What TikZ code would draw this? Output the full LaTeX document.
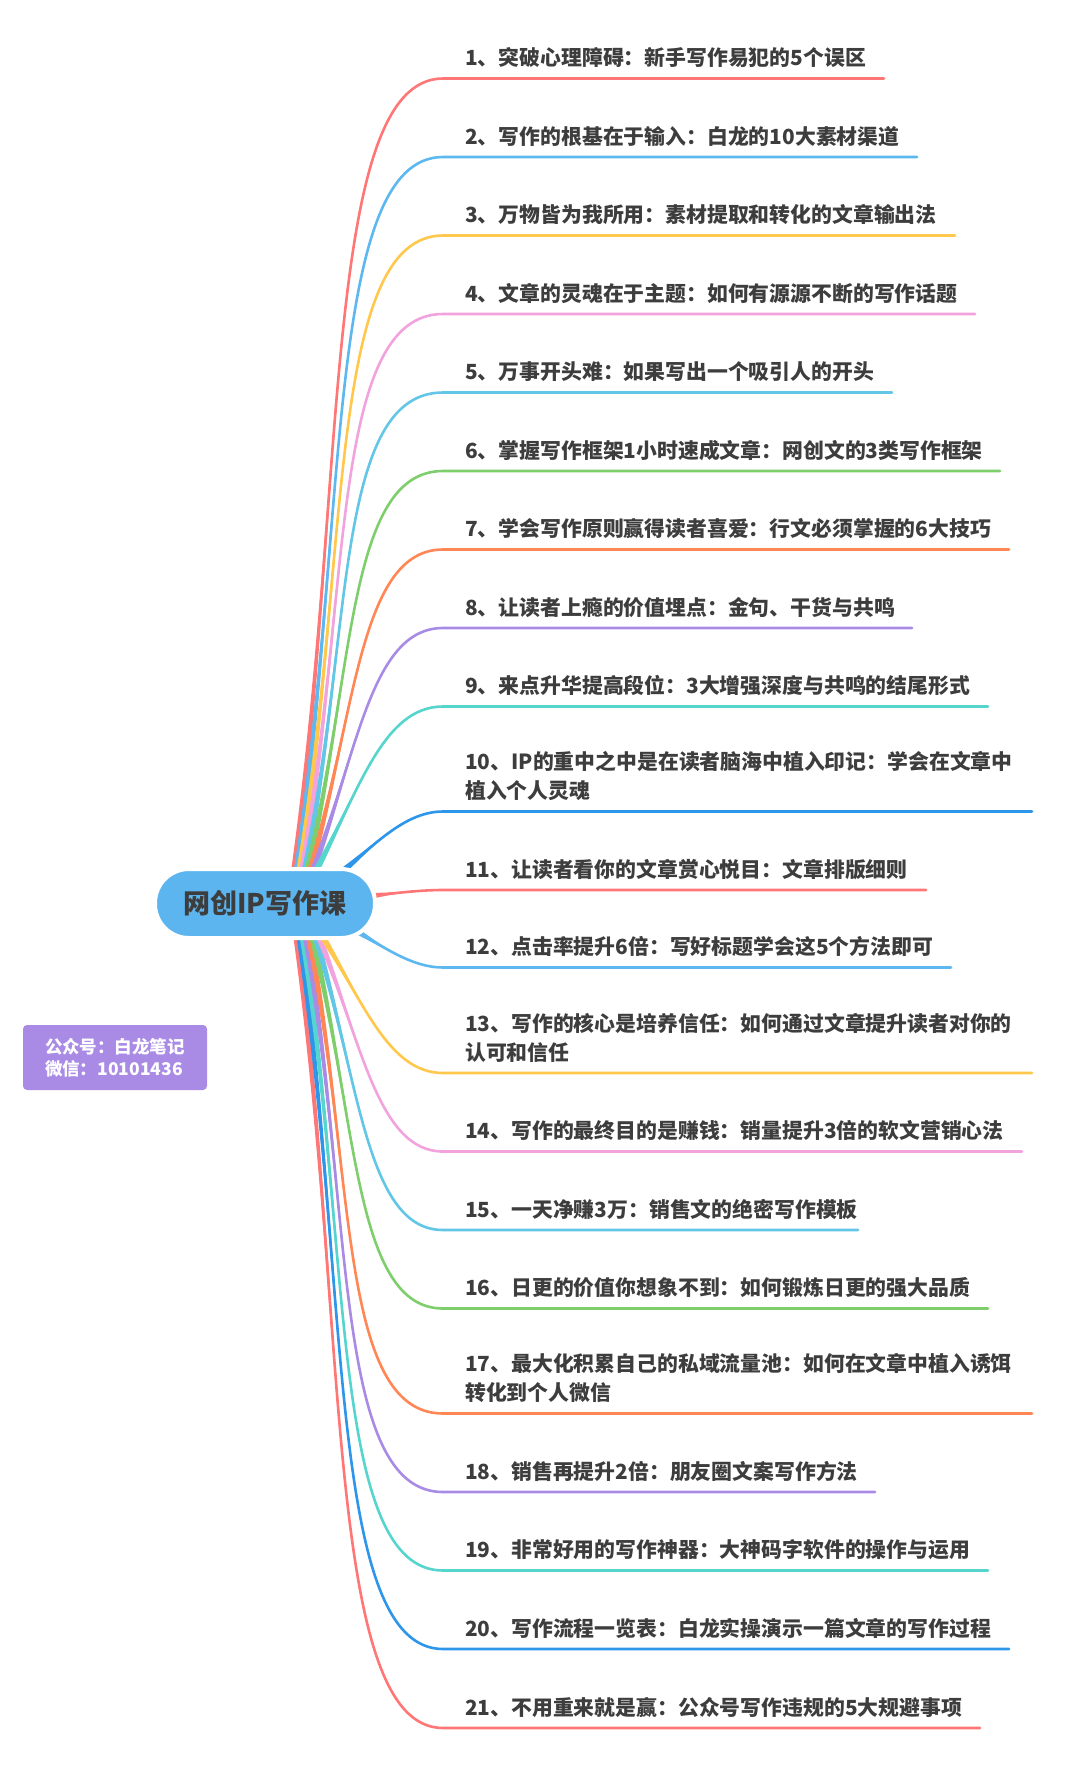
\documentclass[tikz,border=0pt]{standalone}
\usepackage{fontspec}
\newfontfamily\cjk{Noto Sans CJK SC}
\usetikzlibrary{calc}
\definecolor{cRed}{HTML}{FF7676}
\definecolor{cLBlue}{HTML}{5DB8F0}
\definecolor{cYellow}{HTML}{FFC84C}
\definecolor{cPink}{HTML}{F2A3DE}
\definecolor{cCyan}{HTML}{62C6E6}
\definecolor{cGreen}{HTML}{7ECF6C}
\definecolor{cOrange}{HTML}{FF8755}
\definecolor{cPurple}{HTML}{A98BE6}
\definecolor{cTeal}{HTML}{56D5CE}
\definecolor{cBlue}{HTML}{2E96EA}
\definecolor{txt}{HTML}{3D3D3D}
\definecolor{rootfill}{HTML}{5DB5EF}
\newcommand{\mbranch}[6]{%
  \pgfmathsetmacro{\bDX}{443-#3}%
  \pgfmathsetmacro{\bDY}{#5-#4}%
  \pgfmathsetmacro{\bC}{min(0.8,0.3+0.001*abs(\bDY))}%
  \pgfmathsetmacro{\bAX}{#3+0.35*\bDX}%
  \pgfmathsetmacro{\bAY}{#4+0.5*\bDY}%
  \pgfmathsetmacro{\bBX}{443-\bC*\bDX}%
  \coordinate (s#1) at (#3,#4);
  \coordinate (ca#1) at (\bAX,\bAY);
  \coordinate (cb#1) at (\bBX,#5);
  \coordinate (e#1) at (443,#5);
  \coordinate (f#1) at (#6,#5);
  \fill[#2] ($(s#1)!3.2pt!90:(ca#1)$) .. controls (ca#1) and (cb#1) .. (e#1)
     .. controls (cb#1) and (ca#1) .. ($(s#1)!3.2pt!-90:(ca#1)$) -- cycle;
  \draw[#2, branchline] (s#1) .. controls (ca#1) and (cb#1) .. (e#1) -- (f#1);
}
\tikzset{
  branchline/.style={line width=2.6pt, line cap=round},
  item/.style={anchor=base west, inner sep=0pt, text=txt,
    font=\cjk\bfseries\fontsize{20.85}{29}\selectfont},
  rootnode/.style={fill=rootfill, draw=white, line width=4pt,
    rounded corners=34pt, minimum width=220pt, minimum height=69pt,
    inner sep=0pt, text=txt, font=\cjk\bfseries\fontsize{27}{32}\selectfont},
  infobox/.style={fill=cPurple, rounded corners=4pt, minimum width=184pt,
    minimum height=65pt, inner sep=0pt, align=left, text=white,
    font=\cjk\bfseries\fontsize{17.5}{22}\selectfont},
}
\begin{document}
\begin{tikzpicture}[x=1pt,y=-1pt]
\useasboundingbox (0,0) rectangle (1080,1765);
\fill[white] (0,0) rectangle (1080,1765);
% branches
\mbranch{1}{cRed}{294}{873}{78.5}{884}
\mbranch{2}{cLBlue}{296.6}{873}{157}{917}
\mbranch{3}{cYellow}{299.2}{873}{235.5}{955}
\mbranch{4}{cPink}{301.8}{873}{314}{975}
\mbranch{5}{cCyan}{304.4}{873}{392.5}{892}
\mbranch{6}{cGreen}{307}{873}{471}{1000}
\mbranch{7}{cOrange}{309.6}{873}{549.5}{1009}
\mbranch{8}{cPurple}{312.2}{873}{628}{912}
\mbranch{9}{cTeal}{314.8}{873}{706.5}{988}
\mbranch{10}{cBlue}{343}{871}{811.5}{1032}
\mbranch{11}{cRed}{370}{896}{890}{926}
\mbranch{12}{cLBlue}{355}{930}{967.5}{951}
\mbranch{21}{cRed}{296.2}{934}{1728}{980}
\mbranch{20}{cBlue}{299.3}{934}{1649}{1009}
\mbranch{19}{cTeal}{302.4}{934}{1570.5}{988}
\mbranch{18}{cPurple}{305.5}{934}{1492}{875}
\mbranch{17}{cOrange}{308.6}{934}{1413.5}{1032}
\mbranch{16}{cGreen}{311.7}{934}{1308.5}{988}
\mbranch{15}{cCyan}{314.8}{934}{1230}{858}
\mbranch{14}{cPink}{317.9}{934}{1151.5}{1022}
\mbranch{13}{cYellow}{321}{934}{1073}{1032}
% root
\node[rootnode] (root) at (265,903.5) {网创IP写作课};
% info box
\node[infobox] (info) at (115,1057.5) {公众号：白龙笔记\\微信：10101436};
% texts
\node[item] (t1) at (465,65.5) {1、突破心理障碍：新手写作易犯的5个误区};
\node[item] (t2) at (465,144) {2、写作的根基在于输入：白龙的10大素材渠道};
\node[item] (t3) at (465,222.5) {3、万物皆为我所用：素材提取和转化的文章输出法};
\node[item] (t4) at (465,301) {4、文章的灵魂在于主题：如何有源源不断的写作话题};
\node[item] (t5) at (465,379.5) {5、万事开头难：如果写出一个吸引人的开头};
\node[item] (t6) at (465,458) {6、掌握写作框架1小时速成文章：网创文的3类写作框架};
\node[item] (t7) at (465,536.5) {7、学会写作原则赢得读者喜爱：行文必须掌握的6大技巧};
\node[item] (t8) at (465,615) {8、让读者上瘾的价值埋点：金句、干货与共鸣};
\node[item] (t9) at (465,693.5) {9、来点升华提高段位：3大增强深度与共鸣的结尾形式};
\node[item] (t10) at (465,798.5) {\begin{tabular}[b]{@{}l@{}}10、IP的重中之中是在读者脑海中植入印记：学会在文章中\\植入个人灵魂\end{tabular}};
\node[item] (t11) at (465,877) {11、让读者看你的文章赏心悦目：文章排版细则};
\node[item] (t12) at (465,954.5) {12、点击率提升6倍：写好标题学会这5个方法即可};
\node[item] (t13) at (465,1060) {\begin{tabular}[b]{@{}l@{}}13、写作的核心是培养信任：如何通过文章提升读者对你的\\认可和信任\end{tabular}};
\node[item] (t14) at (465,1138.5) {14、写作的最终目的是赚钱：销量提升3倍的软文营销心法};
\node[item] (t15) at (465,1217) {15、一天净赚3万：销售文的绝密写作模板};
\node[item] (t16) at (465,1295.5) {16、日更的价值你想象不到：如何锻炼日更的强大品质};
\node[item] (t17) at (465,1400.5) {\begin{tabular}[b]{@{}l@{}}17、最大化积累自己的私域流量池：如何在文章中植入诱饵\\转化到个人微信\end{tabular}};
\node[item] (t18) at (465,1479) {18、销售再提升2倍：朋友圈文案写作方法};
\node[item] (t19) at (465,1557.5) {19、非常好用的写作神器：大神码字软件的操作与运用};
\node[item] (t20) at (465,1636) {20、写作流程一览表：白龙实操演示一篇文章的写作过程};
\node[item] (t21) at (465,1715) {21、不用重来就是赢：公众号写作违规的5大规避事项};
\end{tikzpicture}
\end{document}
